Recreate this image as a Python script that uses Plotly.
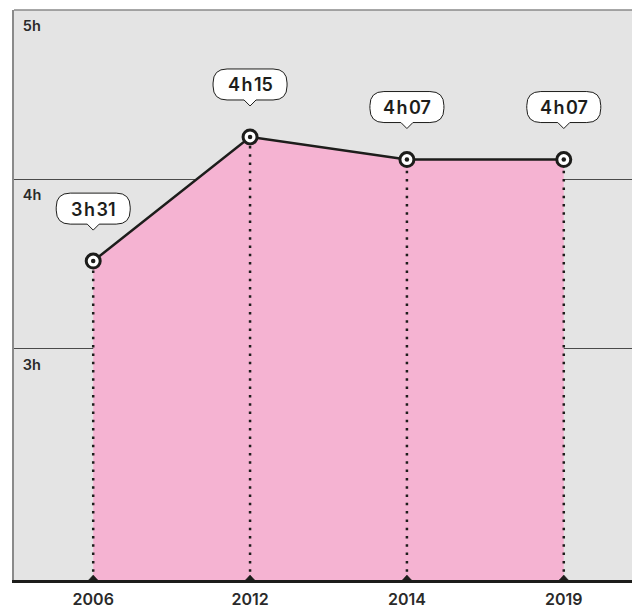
import plotly.graph_objects as go

years = ["2006", "2012", "2014", "2019"]
hours = [3 + 31 / 60, 4 + 15 / 60, 4 + 7 / 60, 4 + 7 / 60]
value_labels = ["3\u200ah\u200a31", "4\u200ah\u200a15", "4\u200ah\u200a07", "4\u200ah\u200a07"]
grid_hours = [3, 4, 5]
grid_labels = ["3h", "4h", "5h"]

Y_MIN, Y_MAX = 1.633, 5.0
INK = "#1d1d1b"
PINK = "#f5b3d2"
FONT = "Inter"

# years are evenly spaced on the chart, so plot them by position
pos = list(range(len(years)))


def _bubble_path(half_w=37, radius=14, bottom=37, top=68, tip=31, notch=6):
    # rounded label box with a small pointer, pixels relative to the point
    w, r, b, t = half_w, radius, bottom, top
    return (
        f"M{-notch},{b}L0,{tip}L{notch},{b}L{w - r},{b}"
        f"Q{w},{b} {w},{b + r}L{w},{t - r}Q{w},{t} {w - r},{t}"
        f"L{-w + r},{t}Q{-w},{t} {-w},{t - r}L{-w},{b + r}"
        f"Q{-w},{b} {-w + r},{b}Z"
    )


fig = go.Figure()

fig.add_trace(
    go.Scatter(
        x=pos,
        y=hours,
        mode="lines",
        fill="tozeroy",
        fillcolor=PINK,
        line={"color": INK, "width": 2.5},
        hoverinfo="skip",
    )
)

drop_x, drop_y = [], []
for p, value in zip(pos, hours):
    drop_x += [p, p, None]
    drop_y += [Y_MIN, value, None]
fig.add_trace(
    go.Scatter(
        x=drop_x,
        y=drop_y,
        mode="lines",
        line={"color": INK, "width": 2.5, "dash": "2.5px,5.8px"},
        hoverinfo="skip",
    )
)

fig.add_trace(
    go.Scatter(
        x=pos,
        y=hours,
        mode="markers",
        marker={"size": 14, "color": "white", "line": {"color": INK, "width": 3}},
        cliponaxis=False,
    )
)
fig.add_trace(
    go.Scatter(
        x=pos,
        y=hours,
        mode="markers",
        marker={"size": 4.5, "color": INK},
        cliponaxis=False,
    )
)

for p, value, text in zip(pos, hours, value_labels):
    fig.add_shape(
        type="path",
        xref="x",
        yref="y",
        xsizemode="pixel",
        ysizemode="pixel",
        xanchor=p,
        yanchor=value,
        path=_bubble_path(),
        fillcolor="white",
        line={"color": INK, "width": 1},
        layer="above",
    )
    fig.add_annotation(
        x=p,
        y=value,
        yshift=52,
        text=text,
        showarrow=False,
        font={"family": FONT, "size": 18, "color": INK, "weight": 600},
    )
    # small tick triangle on the base line
    fig.add_shape(
        type="path",
        xref="x",
        yref="y",
        xsizemode="pixel",
        ysizemode="pixel",
        xanchor=p,
        yanchor=Y_MIN,
        path="M-4.5,0L0,5L4.5,0Z",
        fillcolor=INK,
        line={"color": INK, "width": 0.5},
        layer="above",
    )

fig.add_shape(
    type="line",
    xref="paper",
    yref="paper",
    x0=0,
    x1=1,
    y0=1,
    y1=1,
    line={"color": "#8a8a8a", "width": 1.5},
)

fig.update_layout(
    width=632,
    height=609,
    margin=dict(l=14, r=0, t=10, b=25),
    paper_bgcolor="white",
    plot_bgcolor="#e4e4e4",
    showlegend=False,
    font={"family": FONT, "color": INK},
)
fig.update_xaxes(
    range=[-0.505, 3.435],
    tickvals=pos,
    ticktext=years,
    showgrid=False,
    zeroline=False,
    showline=True,
    linecolor=INK,
    linewidth=3,
    ticks="",
    ticklabelstandoff=3,
    tickfont={"family": FONT, "size": 16, "color": "#2a2a2a", "weight": 600},
)
fig.update_yaxes(
    range=[Y_MIN, Y_MAX],
    tickvals=grid_hours,
    ticktext=grid_labels,
    showgrid=True,
    gridcolor="#4a4a4a",
    gridwidth=1,
    zeroline=False,
    showline=True,
    linecolor="#8a8a8a",
    linewidth=1.5,
    ticks="",
    ticklabelposition="inside",
    ticklabelshift=16,
    ticklabelstandoff=9,
    tickfont={"family": FONT, "size": 14.5, "color": "#2a2a2a", "weight": 600},
)

# drop the page's default body margin so the figure fills the window
fig.write_html(
    "out.html",
    config={"displayModeBar": False},
    post_script="document.body.style.margin = '0'; document.body.style.overflow = 'hidden';",
)
